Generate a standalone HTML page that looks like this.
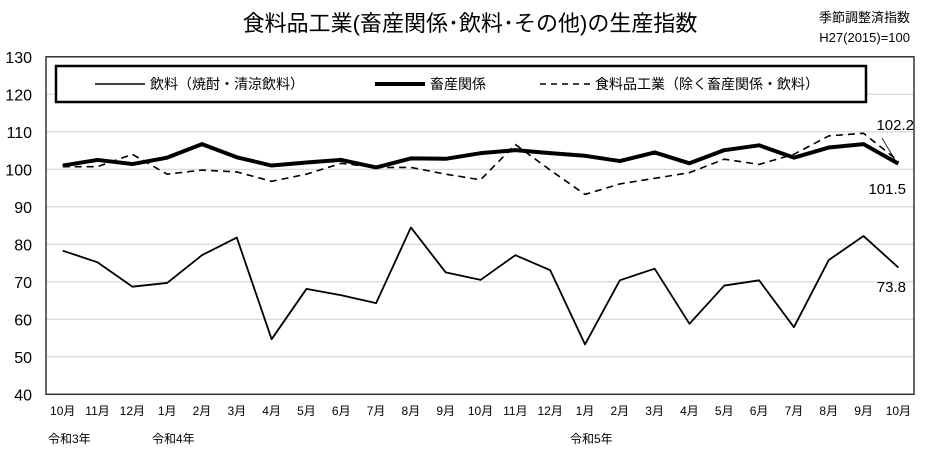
<!DOCTYPE html>
<html><head><meta charset="utf-8"><style>
body{margin:0;background:#fff;}
svg text{font-family:"Liberation Sans","Noto Sans CJK JP",sans-serif;fill:#000;}
</style></head><body>
<svg width="932" height="461" viewBox="0 0 932 461">
<text x="470" y="31" font-size="22" text-anchor="middle">食料品工業(畜産関係･飲料･その他)の生産指数</text>
<text x="910" y="22" font-size="13" text-anchor="end">季節調整済指数</text>
<text x="910" y="42" font-size="13" text-anchor="end">H27(2015)=100</text>
<g id="grid"></g>
<rect x="46" y="56.8" width="868" height="337.5" fill="none" stroke="#333" stroke-width="1.5"/>
<g id="yticks"></g><g id="xticks"></g>
<g id="series"></g>
<g>
<rect x="56" y="66" width="810" height="36" fill="#fff" stroke="#000" stroke-width="2.5"/>
<line x1="95" y1="84" x2="145" y2="84" stroke="#000" stroke-width="1.5"/>
<text x="150" y="89" font-size="14">飲料（焼酎・清涼飲料）</text>
<line x1="375" y1="84" x2="425" y2="84" stroke="#000" stroke-width="4"/>
<text x="430" y="89" font-size="14">畜産関係</text>
<line x1="540" y1="84" x2="590" y2="84" stroke="#000" stroke-width="1.5" stroke-dasharray="6,5"/>
<text x="595" y="89" font-size="14">食料品工業（除く畜産関係・飲料）</text>
</g>
<text x="914" y="130" font-size="15" text-anchor="end">102.2</text>
<line x1="882" y1="138" x2="895" y2="160" stroke="#000" stroke-width="0.8"/>
<text x="906" y="194" font-size="15" text-anchor="end">101.5</text>
<text x="906" y="292" font-size="15" text-anchor="end">73.8</text>
<text x="48" y="443" font-size="12">令和3年</text>
<text x="152" y="443" font-size="12">令和4年</text>
<text x="570" y="443" font-size="12">令和5年</text>
</svg>
<script>
const months=["10月","11月","12月","1月","2月","3月","4月","5月","6月","7月","8月","9月","10月","11月","12月","1月","2月","3月","4月","5月","6月","7月","8月","9月","10月"];
const beverage=[78.3,75.2,68.7,69.7,77.1,81.8,54.7,68.1,66.4,64.3,84.5,72.5,70.5,77.1,73.1,53.3,70.4,73.5,58.8,69.0,70.4,57.9,75.8,82.2,73.8];
const livestock=[101.0,102.5,101.4,103.1,106.7,103.2,101.0,101.8,102.5,100.5,102.9,102.8,104.3,105.1,104.3,103.6,102.2,104.5,101.6,105.1,106.4,103.1,105.8,106.7,101.5];
const food=[100.7,100.7,104.0,98.7,99.8,99.3,96.8,98.7,101.6,100.5,100.5,98.7,97.2,106.6,99.8,93.3,96.1,97.6,99.1,102.7,101.3,104.0,108.9,109.6,102.2];
const yTicks=[40,50,60,70,80,90,100,110,120,130];
const NS="http://www.w3.org/2000/svg";
const xS=i=>62.7+i*34.82;
const yS=v=>394.3-(v-40)*3.75;
function mk(t,a,p){const e=document.createElementNS(NS,t);for(const k in a)e.setAttribute(k,a[k]);p.appendChild(e);return e;}
const grid=document.getElementById('grid'),yt=document.getElementById('yticks'),xt=document.getElementById('xticks'),ser=document.getElementById('series');
yTicks.forEach(v=>{
 if(v>40&&v<130){const l=mk('line',{x1:46,x2:914,y1:yS(v),y2:yS(v),stroke:'#d4d4d4','stroke-width':1.2},grid);
 
 }
 const t=mk('text',{x:32,y:yS(v)+6,'font-size':16,'text-anchor':'end'},yt);t.textContent=v;
 
 
});
months.forEach((m,i)=>{const t=mk('text',{x:xS(i),y:415,'font-size':12,'text-anchor':'middle'},xt);t.textContent=m;
 
 });
function line(d,w,dash,name){const p=mk('polyline',{points:d.map((v,i)=>xS(i)+','+yS(v)).join(' '),fill:'none',stroke:'#000','stroke-width':w,'stroke-linejoin':'round'},ser);
 if(dash)p.setAttribute('stroke-dasharray',dash);
 
 }
line(beverage,1.8,null,'beverage-line');
line(food,1.6,'7,5','food-excl-line');
line(livestock,4,null,'livestock-line');
</script>
</body></html>
